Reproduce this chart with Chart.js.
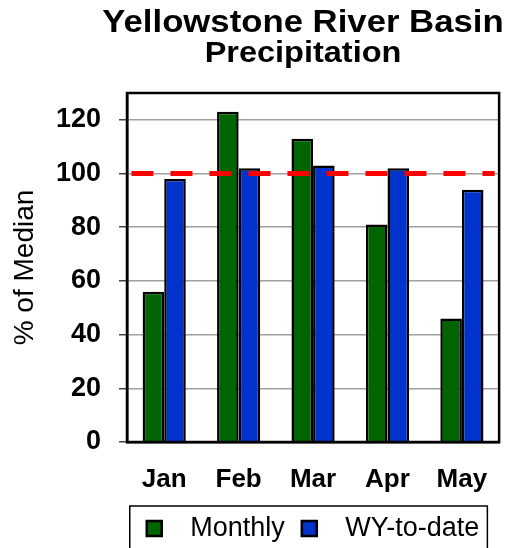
<!DOCTYPE html>
<html>
<head>
<meta charset="utf-8">
<script src="https://cdn.jsdelivr.net/npm/chart.js@4.4.1/dist/chart.umd.min.js"></script>
<style>
  body { margin: 0; background: #fff; }
  #wrap { position: relative; width: 510px; height: 548px; overflow: hidden; }
  #chart, #median { position: absolute; left: 0; top: 0; }
  .ttl { position: absolute; left: 103px; width: 400px; text-align: center; line-height: 1;
         transform: scaleX(1.12); transform-origin: center;
         font-family: Arial, "Liberation Sans", sans-serif; font-weight: bold; color: #000; white-space: nowrap; }
</style>
</head>
<body>
<div id="wrap">
  <canvas id="chart" width="510" height="548"></canvas>
  <canvas id="median" width="510" height="548"></canvas>
  <div class="ttl" style="top:6px;font-size:31px;">Yellowstone River Basin</div>
  <div class="ttl" style="top:38px;font-size:29px;">Precipitation</div>
</div>
<script>
var months = ["Jan", "Feb", "Mar", "Apr", "May"];
var monthly = [56, 123, 113, 81, 46];
var wyToDate = [98, 102, 103, 102, 94];
var medianLine = [100, 100];
var yTicks = [0, 20, 40, 60, 80, 100, 120];
var yMax = 130;

var fontFam = "Arial, 'Liberation Sans', sans-serif";

// plot area: left 127, right 502, top 93, bottom 437
var pad = { left: 4, right: 8, top: 93, bottom: -4 };

// black box round the plot area
var plotBorder = {
    id: 'plotBorder',
    afterDatasetsDraw: function (chart) {
        var a = chart.chartArea, ctx = chart.ctx;
        ctx.save();
        ctx.strokeStyle = '#000';
        ctx.lineWidth = 2.5;
        ctx.strokeRect(a.left, a.top, a.right - a.left, a.bottom - a.top);
        ctx.restore();
    }
};

// frame round the legend items
var legendBox = {
    id: 'legendBox',
    afterDraw: function (chart) {
        var lg = chart.legend;
        if (!lg || !lg.legendHitBoxes.length) return;
        var hb = lg.legendHitBoxes;
        var x1 = hb[0].left - 17;
        var x2 = hb[hb.length - 1].left + hb[hb.length - 1].width + 8;
        var ctx = chart.ctx;
        ctx.save();
        ctx.strokeStyle = '#000';
        ctx.lineWidth = 1.5;
        ctx.strokeRect(x1, hb[0].top - 9, x2 - x1, 80);
        ctx.restore();
    }
};

var barChart = new Chart(document.getElementById('chart').getContext('2d'), {
    type: 'bar',
    data: {
        labels: months,
        datasets: [{
            label: 'Monthly',
            data: monthly,
            backgroundColor: '#006400',
            borderColor: '#000',
            borderWidth: 2.5,
            barPercentage: 1.0,
            categoryPercentage: 0.58
        }, {
            label: 'WY-to-date',
            data: wyToDate,
            backgroundColor: '#0033cc',
            borderColor: '#000',
            borderWidth: 2.5,
            barPercentage: 1.0,
            categoryPercentage: 0.58
        }]
    },
    options: {
        responsive: false,
        animation: false,
        events: [],
        layout: { padding: pad },
        plugins: {
            title: { display: false },
            tooltip: { enabled: false },
            legend: {
                display: true,
                position: 'bottom',
                fullSize: false,
                labels: {
                    boxWidth: 15,
                    boxHeight: 15,
                    padding: 17,
                    color: '#000',
                    font: { family: fontFam, size: 27 },
                    generateLabels: function (chart) {
                        var items = Chart.defaults.plugins.legend.labels.generateLabels(chart);
                        items.forEach(function (it) { it.text = '  ' + it.text; });
                        return items;
                    }
                }
            }
        },
        scales: {
            x: {
                grid: { display: false, drawTicks: false },
                border: { display: true, color: '#000', width: 2.5 },
                afterFit: function (scale) { scale.height = 56; },
                ticks: {
                    color: '#000',
                    padding: 22,
                    font: { family: fontFam, size: 26, weight: 'bold' }
                }
            },
            y: {
                min: 0,
                max: yMax,
                afterFit: function (scale) { scale.width = 123; },
                afterBuildTicks: function (scale) {
                    scale.ticks = yTicks.map(function (v) { return {value: v}; });
                },
                grid: {
                    color: '#a0a0a0',
                    lineWidth: 1.5,
                    tickLength: 8,
                    tickColor: '#444'
                },
                border: { display: true, color: '#000', width: 2.5 },
                ticks: {
                    color: '#000',
                    padding: 18,
                    font: { family: fontFam, size: 27, weight: 'bold' }
                },
                title: {
                    display: true,
                    text: '% of Median',
                    color: '#000',
                    padding: { top: 4, bottom: 4 },
                    font: { family: fontFam, size: 28 }
                }
            }
        }
    },
    plugins: [plotBorder, legendBox]
});

// red dashed median line, on its own layer with the same plot area
var a = barChart.chartArea;
new Chart(document.getElementById('median').getContext('2d'), {
    type: 'line',
    data: {
        datasets: [{
            label: 'Median',
            data: [{x: 0.012, y: medianLine[0]}, {x: 0.988, y: medianLine[1]}],
            borderColor: '#ff0000',
            borderWidth: 5,
            borderDash: [22, 17],
            borderCapStyle: 'butt',
            pointRadius: 0,
            fill: false
        }]
    },
    options: {
        responsive: false,
        animation: false,
        events: [],
        layout: { padding: { left: a.left, right: 510 - a.right, top: a.top, bottom: 548 - a.bottom } },
        plugins: { legend: { display: false }, tooltip: { enabled: false } },
        scales: {
            x: { type: 'linear', display: false, min: 0, max: 1 },
            y: { display: false, min: 0, max: yMax }
        }
    }
});
</script>
</body>
</html>
